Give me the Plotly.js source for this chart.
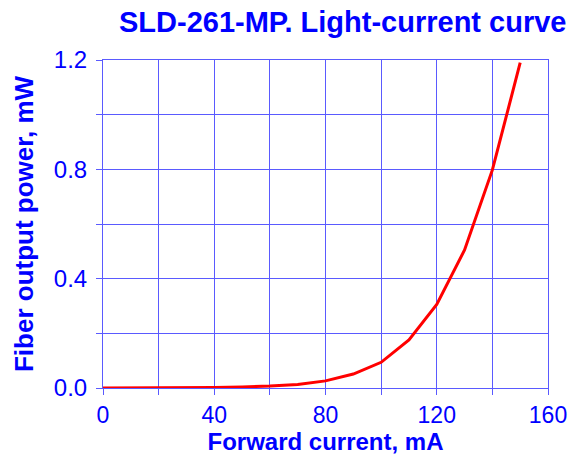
<!DOCTYPE html>
<html><head><meta charset="utf-8">
<script src="https://cdn.plot.ly/plotly-3.0.1.min.js"></script>
<style>html,body{margin:0;padding:0;background:#fff}#c{width:578px;height:455px}</style>
</head><body><div id="c"></div>
<script>
const current = [0,10,20,30,40,50,60,70,80,90,100,110,120,130,140,150];
const power = [0,0.0002,0.0005,0.001,0.002,0.004,0.007,0.013,0.026,0.051,0.094,0.176,0.306,0.505,0.798,1.19];
const titleText = 'SLD-261-MP. Light-current curve';
const xTitle = 'Forward current, mA';
const yTitle = 'Fiber output power, mW';

const blue = '#0000ff';
const grid = 'rgb(90,90,255)';
const font = 'Liberation Sans, Arial, sans-serif';
const axisCommon = {
  showline: true, linecolor: grid, linewidth: 1, mirror: true,
  showgrid: true, gridcolor: grid, gridwidth: 1,
  ticks: 'outside', ticklen: 6, tickcolor: grid, tickwidth: 1,
  zeroline: false,
  tickfont: {family: font, size: 24, color: blue}
};
const layout = {
  width: 578, height: 455,
  margin: {l: 103, r: 30, t: 60, b: 67},
  paper_bgcolor: '#fff', plot_bgcolor: '#fff',
  showlegend: false,
  title: {text: titleText, x: 0.593, xanchor: 'center', y: 0.952, yanchor: 'middle',
    font: {family: font, size: 29, color: blue, weight: 'bold'}},
  xaxis: Object.assign({}, axisCommon, {
    range: [0, 160], dtick: 40, tick0: 0, ticklabelstandoff: 0,
    tickfont: {family: font, size: 23, color: blue},
    minor: {dtick: 20, ticks: 'outside', ticklen: 6, tickcolor: grid, showgrid: true, gridcolor: grid, gridwidth: 1},
    title: {text: xTitle, standoff: 5, font: {family: font, size: 24, color: blue, weight: 'bold'}}
  }),
  yaxis: Object.assign({}, axisCommon, {
    range: [0, 1.2], dtick: 0.4, tick0: 0, tickformat: '.1f', ticklabelstandoff: 4,
    minor: {dtick: 0.2, ticks: 'outside', ticklen: 6, tickcolor: grid, showgrid: true, gridcolor: grid, gridwidth: 1},
    title: {text: yTitle, standoff: 12, font: {family: font, size: 26, color: blue, weight: 'bold'}}
  })
};
const data = [{
  x: current, y: power, type: 'scatter', mode: 'lines',
  line: {color: '#ff0000', width: 3}, cliponaxis: false
}];
Plotly.newPlot('c', data, layout, {displayModeBar: false, staticPlot: true});
</script></body></html>
